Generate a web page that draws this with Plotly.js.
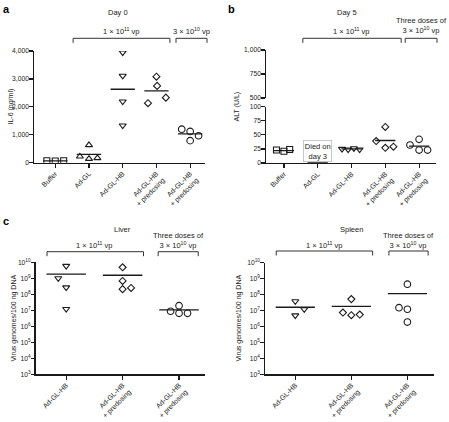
<!DOCTYPE html>
<html>
<head>
<meta charset="utf-8">
<script src="https://cdn.plot.ly/plotly-3.0.1.min.js"></script>
<style>html,body{margin:0;padding:0;background:#fff;}#chart{width:449px;height:422px;}</style>
</head>
<body>
<div id="chart"></div>
<script>
// ---------- DATA ----------
// Panel a: IL-6 (pg/ml), Day 0
const catsA = ['Buffer', 'Ad-GL', 'Ad-GL-HB', 'Ad-GL-HB<br>+ predosing', 'Ad-GL-HB<br>+ predosing'];
const il6Buffer = [70, 60, 70];
const il6AdGL = [630, 225, 140, 165];
const il6AdGLHB = [3950, 3110, 2190, 1330];
const il6Predosing = [3080, 2750, 2330, 2130];
const il6ThreeDoses = [1200, 1120, 965, 790];
const il6Means = [65, 300, 2630, 2570, 1030];
const il6TickVals = [0, 1000, 2000, 3000, 4000];
const il6TickText = ['0', '1,000', '2,000', '3,000', '4,000'];

// Panel b: ALT (U/L), Day 5
const catsB = ['Buffer', 'Ad-GL', 'Ad-GL-HB', 'Ad-GL-HB<br>+ predosing', 'Ad-GL-HB<br>+ predosing'];
const altBuffer = [23, 21, 24];
const altAdGLHB = [25, 24, 26, 24];
const altPredosing = [39, 64, 27, 29];
const altThreeDoses = [32, 42, 23, 23];
const altMeans = [22, 0, 25, 40, 30];
const altLowTickVals = [0, 25, 50, 75, 100];
const altLowTickText = ['0', '25', '50', '75', '100'];
const altHighTickVals = [500, 750, 1000];
const altHighTickText = ['500', '750', '1,000'];

// Panel c: Virus genomes/100 ng DNA
const catsC = ['Ad-GL-HB', 'Ad-GL-HB<br>+ predosing', 'Ad-GL-HB<br>+ predosing'];
const liverHB = [5.9e9, 1.0e9, 2.7e8, 1.2e7];
const liverPredosing = [4.9e9, 6.8e8, 2.1e8, 2.5e8];
const liverThreeDoses = [1.95e7, 8.7e6, 6.5e6, 6.5e6];
const liverMeans = [1.8e9, 1.55e9, 1.05e7];
const spleenHB = [3.8e7, 4.9e6, 1.2e7];
const spleenPredosing = [5.2e7, 7.5e6, 5.1e6, 5.6e6];
const spleenThreeDoses = [4.5e8, 1.5e7, 1.2e7, 1.9e6];
const spleenMeans = [1.6e7, 1.8e7, 1.15e8];
const logTickVals = [1e3, 1e4, 1e5, 1e6, 1e7, 1e8, 1e9, 1e10];
const logTickText = ['10<sup>3</sup>', '10<sup>4</sup>', '10<sup>5</sup>', '10<sup>6</sup>', '10<sup>7</sup>', '10<sup>8</sup>', '10<sup>9</sup>', '10<sup>10</sup>'];

// ---------- LAYOUT HELPERS (positions / styles) ----------
const W = 449, H = 422;
const FONT = 'Liberation Sans, Arial, Helvetica, sans-serif';
const INK = '#1a1a1a';
const py = p => 1 - p / H;
const px = p => p / W;

// jitter offsets of the scatter points (category units)
const offA = {buf: [-0.25, 0, 0.25], gl: [0, -0.27, 0, 0.25], hb: [0, 0, 0, 0], pre: [0, 0.02, 0.28, -0.25], three: [-0.25, 0, 0.25, 0]};
const offB = {buf: [-0.22, 0, 0.17], hb: [-0.28, -0.1, 0.07, 0.24], pre: [-0.27, 0, 0, 0.24], three: [-0.27, 0, 0, 0.25]};
const offL = {hb: [0, -0.14, 0, 0], pre: [0, 0, 0, 0.15], three: [0, -0.15, 0, 0.15]};
const offS = {hb: [0, 0, 0.16], pre: [0, -0.15, 0, 0.15], three: [0, -0.15, 0, 0]};

const SYM = {
  sq: {symbol: 'square-open', size: 6},
  up: {symbol: 'triangle-up-open', size: 6.2},
  down: {symbol: 'triangle-down-open', size: 6.2},
  dia: {symbol: 'diamond-open', size: 5.4},
  circ: {symbol: 'circle-open', size: 6.6}
};

function baseAxis(extra) {
  return Object.assign({
    showline: true, linecolor: INK, linewidth: 1.3,
    ticks: 'outside', ticklen: 3.5, tickwidth: 1.2, tickcolor: INK,
    showgrid: false, zeroline: false, fixedrange: true, ticklabelstandoff: -1,
    tickfont: {family: FONT, size: 6.7, color: '#222'}
  }, extra);
}

const axA = {domain: [px(34), px(205)], range: [-0.63, 4.44]};
const axB = {domain: [px(266), px(436)], range: [-0.53, 4.5]};
const axL = {domain: [px(35.7), px(205)], range: [-0.54, 2.46]};
const axS = {domain: [px(265), px(434.3)], range: [-0.54, 2.48]};
const cx = (ax, c) => ax.domain[0] + (c - ax.range[0]) / (ax.range[1] - ax.range[0]) * (ax.domain[1] - ax.domain[0]);

function pts(vals, offs, cat, sym, xa, ya, name) {
  return {
    type: 'scatter', mode: 'markers', name: name, showlegend: false, hoverinfo: 'skip',
    x: vals.map((v, i) => cat + offs[i]), y: vals, xaxis: xa, yaxis: ya,
    marker: {symbol: sym.symbol, size: sym.size, color: INK, line: {width: 1.1, color: INK}}
  };
}
function meanLines(means, half, xa, ya) {
  const xs = [], ys = [];
  means.forEach((m, i) => { xs.push(i - half, i + half, null); ys.push(m, m, null); });
  return {type: 'scatter', mode: 'lines', x: xs, y: ys, xaxis: xa, yaxis: ya, showlegend: false, hoverinfo: 'skip',
    line: {color: INK, width: 1.3}, connectgaps: false};
}

const data = [
  pts(il6Buffer, offA.buf, 0, SYM.sq, 'x', 'y', 'Buffer'),
  pts(il6AdGL, offA.gl, 1, SYM.up, 'x', 'y', 'Ad-GL'),
  pts(il6AdGLHB, offA.hb, 2, SYM.down, 'x', 'y', 'Ad-GL-HB'),
  pts(il6Predosing, offA.pre, 3, SYM.dia, 'x', 'y', 'Ad-GL-HB + predosing'),
  pts(il6ThreeDoses, offA.three, 4, SYM.circ, 'x', 'y', '3x10^10 + predosing'),
  meanLines(il6Means, 0.36, 'x', 'y'),

  pts(altBuffer, offB.buf, 0, SYM.sq, 'x2', 'y2', 'Buffer'),
  pts(altAdGLHB, offB.hb, 2, SYM.down, 'x2', 'y2', 'Ad-GL-HB'),
  pts(altPredosing, offB.pre, 3, SYM.dia, 'x2', 'y2', 'Ad-GL-HB + predosing'),
  pts(altThreeDoses, offB.three, 4, SYM.circ, 'x2', 'y2', 'Three doses'),
  meanLines(altMeans, 0.3, 'x2', 'y2'),
  {type: 'scatter', mode: 'markers', x: [null], y: [null], xaxis: 'x2', yaxis: 'y3', showlegend: false, hoverinfo: 'skip'},

  pts(liverHB, offL.hb, 0, SYM.down, 'x3', 'y4', 'Ad-GL-HB'),
  pts(liverPredosing, offL.pre, 1, SYM.dia, 'x3', 'y4', 'Ad-GL-HB + predosing'),
  pts(liverThreeDoses, offL.three, 2, SYM.circ, 'x3', 'y4', 'Three doses'),
  meanLines(liverMeans, 0.35, 'x3', 'y4'),

  pts(spleenHB, offS.hb, 0, SYM.down, 'x4', 'y5', 'Ad-GL-HB'),
  pts(spleenPredosing, offS.pre, 1, SYM.dia, 'x4', 'y5', 'Ad-GL-HB + predosing'),
  pts(spleenThreeDoses, offS.three, 2, SYM.circ, 'x4', 'y5', 'Three doses'),
  meanLines(spleenMeans, 0.35, 'x4', 'y5')
];

const catTicks = (cats) => ({tickmode: 'array', tickvals: cats.map((c, i) => i), ticktext: cats, tickangle: -45, ticklen: 4,
  tickfont: {family: FONT, size: 7, color: '#222'}});

const layout = {
  width: W, height: H, autosize: false,
  margin: {l: 0, r: 0, t: 0, b: 0, pad: 0},
  paper_bgcolor: '#fff', plot_bgcolor: 'rgba(0,0,0,0)',
  font: {family: FONT, size: 7.5, color: '#222'},
  showlegend: false,
  xaxis: baseAxis(Object.assign({domain: axA.domain, range: axA.range, anchor: 'y'}, catTicks(catsA))),
  yaxis: baseAxis({domain: [py(162.7), py(51)], range: [0, 4000], anchor: 'x', tickmode: 'array', tickvals: il6TickVals, ticktext: il6TickText}),
  xaxis2: baseAxis(Object.assign({domain: axB.domain, range: axB.range, anchor: 'y2'}, catTicks(catsB))),
  yaxis2: baseAxis({domain: [py(163), py(106.7)], range: [0, 100], anchor: 'x2', tickmode: 'array', tickvals: altLowTickVals, ticktext: altLowTickText}),
  yaxis3: baseAxis({domain: [py(98), py(50)], range: [500, 1000], anchor: 'x2', tickmode: 'array', tickvals: altHighTickVals, ticktext: altHighTickText}),
  xaxis3: baseAxis(Object.assign({domain: axL.domain, range: axL.range, anchor: 'y4'}, catTicks(catsC))),
  yaxis4: baseAxis({domain: [py(374.3), py(262.3)], type: 'log', range: [3, 10], anchor: 'x3', tickmode: 'array', tickvals: logTickVals, ticktext: logTickText}),
  xaxis4: baseAxis(Object.assign({domain: axS.domain, range: axS.range, anchor: 'y5'}, catTicks(catsC))),
  yaxis5: baseAxis({domain: [py(374.3), py(262.7)], type: 'log', range: [3, 10], anchor: 'x4', tickmode: 'array', tickvals: logTickVals, ticktext: logTickText}),
  shapes: [],
  annotations: []
};

function bracket(ax, c0, c1, topPx) {
  const x0 = cx(ax, c0), x1 = cx(ax, c1), y0 = py(topPx), y1 = py(topPx + 4.5);
  layout.shapes.push({type: 'path', xref: 'paper', yref: 'paper',
    path: `M ${x0},${y1} L ${x0},${y0} L ${x1},${y0} L ${x1},${y1}`,
    line: {color: '#333', width: 1}});
}
function note(text, xPaper, yPx, opts) {
  layout.annotations.push(Object.assign({text: text, xref: 'paper', yref: 'paper', x: xPaper, y: py(yPx),
    showarrow: false, xanchor: 'center', yanchor: 'middle', font: {family: FONT, size: 7.5, color: '#222'}}, opts || {}));
}

// Panel a
note('<b>a</b>', px(1), 9, {xanchor: 'left', font: {family: FONT, size: 11, color: '#000'}});
note('Day 0', px(118), 12.5);
bracket(axA, 0.53, 3.4, 38.3);
bracket(axA, 3.58, 4.5, 38.3);
note('1 × 10<sup>11</sup> vp', cx(axA, 1.96), 31);
note('3 × 10<sup>10</sup> vp', cx(axA, 4.04), 31);
note('IL-6 (pg/ml)', px(10.5), 107, {textangle: -90, font: {family: FONT, size: 7, color: '#222'}});

// Panel b
note('<b>b</b>', px(226), 9, {xanchor: 'left', font: {family: FONT, size: 11, color: '#000'}});
note('Day 5', px(347), 12.5);
bracket(axB, 0.56, 3.47, 38.3);
bracket(axB, 3.59, 4.53, 38.3);
note('1 × 10<sup>11</sup> vp', cx(axB, 2.0), 31);
note('Three doses of<br>3 × 10<sup>10</sup> vp', cx(axB, 4.06), 25.5);
note('ALT (U/L)', px(236.5), 107, {textangle: -90, font: {family: FONT, size: 7, color: '#222'}});
note('Died on<br>day 3', cx(axB, 1), 151, {bordercolor: '#bbbbbb', borderwidth: 0.8, borderpad: 1, bgcolor: '#fff'});

// Panel c
note('<b>c</b>', px(1), 221, {xanchor: 'left', font: {family: FONT, size: 11, color: '#000'}});
note('Liver', px(122), 229);
bracket(axL, -0.34, 1.37, 251.7);
bracket(axL, 1.63, 2.34, 251.7);
note('1 × 10<sup>11</sup> vp', cx(axL, 0.51), 245);
note('Three doses of<br>3 × 10<sup>10</sup> vp', cx(axL, 1.99), 240);
note('Virus genomes/100 ng DNA', px(13.5), 318, {textangle: -90, font: {family: FONT, size: 7, color: '#222'}});

note('Spleen', px(351), 229);
bracket(axS, -0.34, 1.38, 251);
bracket(axS, 1.67, 2.37, 251);
note('1 × 10<sup>11</sup> vp', cx(axS, 0.52), 245);
note('Three doses of<br>3 × 10<sup>10</sup> vp', cx(axS, 2.02), 240);
note('Virus genomes/100 ng DNA', px(238.5), 318, {textangle: -90, font: {family: FONT, size: 7, color: '#222'}});

Plotly.newPlot('chart', data, layout, {displayModeBar: false, staticPlot: true});
</script>
</body>
</html>
